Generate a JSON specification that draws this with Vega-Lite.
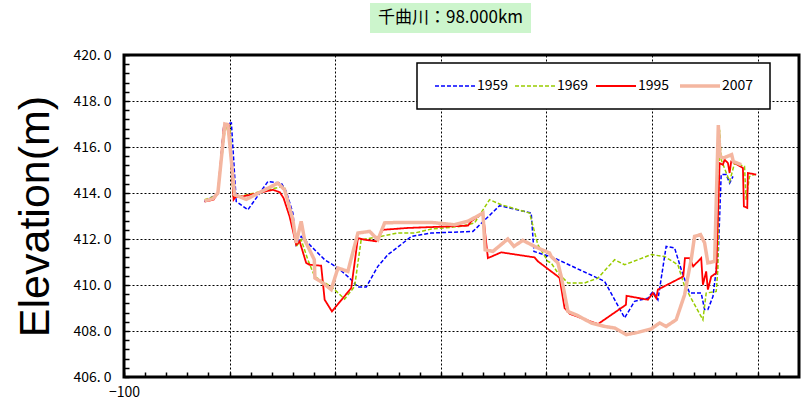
{
  "$schema": "https://vega.github.io/schema/vega-lite/v6.json",
  "padding": {"left": 12, "top": 3, "right": 0, "bottom": 0},
  "bounds": "flush",
  "spacing": 52,
  "config": {"view": {"stroke": null}, "font": "Noto Sans CJK JP"},
  "datasets": {
    "ttl": [{"label": "千曲川：98.000km"}],
    "blank": [{"t": ""}],
    "prof": [
      {"s":"1959","d":-23.7,"h":413.63},{"s":"1959","d":-11.1,"h":413.97},{"s":"1959","d":-5.4,"h":416.97},{"s":"1959","d":1.7,"h":417.05},{"s":"1959","d":6.3,"h":413.63},{"s":"1959","d":17.3,"h":413.27},{"s":"1959","d":36.3,"h":414.5},{"s":"1959","d":48.9,"h":414.43},{"s":"1959","d":53.6,"h":414.07},{"s":"1959","d":59.9,"h":413.13},{"s":"1959","d":63.1,"h":411.75},{"s":"1959","d":67.8,"h":412.11},{"s":"1959","d":77.3,"h":411.68},{"s":"1959","d":90.0,"h":411.1},{"s":"1959","d":102.6,"h":410.74},{"s":"1959","d":113.7,"h":410.3},{"s":"1959","d":121.5,"h":409.91},{"s":"1959","d":129.4,"h":409.91},{"s":"1959","d":140.4,"h":410.81},{"s":"1959","d":149.9,"h":411.32},{"s":"1959","d":159.4,"h":411.65},{"s":"1959","d":172.0,"h":412.11},{"s":"1959","d":190.9,"h":412.26},{"s":"1959","d":230.4,"h":412.33},{"s":"1959","d":255.7,"h":413.45},{"s":"1959","d":285.6,"h":413.13},{"s":"1959","d":288.2,"h":411.46},{"s":"1959","d":307.8,"h":411.17},{"s":"1959","d":310.9,"h":411.1},{"s":"1959","d":355.1,"h":410.16},{"s":"1959","d":374.1,"h":408.57},{"s":"1959","d":383.5,"h":409.29},{"s":"1959","d":396.1,"h":409.43},{"s":"1959","d":400.9,"h":409.72},{"s":"1959","d":405.6,"h":409.36},{"s":"1959","d":413.4,"h":411.68},{"s":"1959","d":421.4,"h":411.61},{"s":"1959","d":427.7,"h":410.67},{"s":"1959","d":435.6,"h":409.65},{"s":"1959","d":446.6,"h":409.65},{"s":"1959","d":449.8,"h":408.93},{"s":"1959","d":452.9,"h":408.93},{"s":"1959","d":457.7,"h":409.5},{"s":"1959","d":462.8,"h":411.4},{"s":"1959","d":465.5,"h":414.8},{"s":"1959","d":470.3,"h":414.8},{"s":"1959","d":473.5,"h":414.43},{"s":"1959","d":476.7,"h":414.72},
      {"s":"1969","d":-23.7,"h":413.71},{"s":"1969","d":-15.2,"h":413.84},{"s":"1969","d":-11.1,"h":414.0},{"s":"1969","d":-4.7,"h":416.6},{"s":"1969","d":-2.5,"h":416.95},{"s":"1969","d":0.5,"h":416.9},{"s":"1969","d":3.1,"h":413.88},{"s":"1969","d":9.5,"h":413.85},{"s":"1969","d":50.5,"h":414.29},{"s":"1969","d":52.1,"h":414.22},{"s":"1969","d":59.9,"h":412.7},{"s":"1969","d":63.1,"h":411.68},{"s":"1969","d":67.8,"h":411.97},{"s":"1969","d":74.1,"h":411.1},{"s":"1969","d":80.5,"h":410.37},{"s":"1969","d":88.4,"h":410.16},{"s":"1969","d":97.8,"h":409.87},{"s":"1969","d":108.9,"h":409.39},{"s":"1969","d":118.4,"h":409.94},{"s":"1969","d":124.6,"h":411.97},{"s":"1969","d":140.4,"h":412.09},{"s":"1969","d":159.4,"h":412.26},{"s":"1969","d":175.2,"h":412.26},{"s":"1969","d":190.9,"h":412.43},{"s":"1969","d":219.3,"h":412.55},{"s":"1969","d":232.0,"h":412.7},{"s":"1969","d":246.2,"h":413.71},{"s":"1969","d":257.2,"h":413.49},{"s":"1969","d":284.1,"h":413.13},{"s":"1969","d":291.9,"h":411.75},{"s":"1969","d":301.4,"h":411.03},{"s":"1969","d":304.5,"h":410.96},{"s":"1969","d":310.9,"h":410.52},{"s":"1969","d":320.4,"h":410.09},{"s":"1969","d":336.2,"h":410.09},{"s":"1969","d":348.8,"h":410.3},{"s":"1969","d":364.6,"h":411.1},{"s":"1969","d":374.1,"h":410.88},{"s":"1969","d":399.2,"h":411.32},{"s":"1969","d":411.9,"h":411.24},{"s":"1969","d":424.5,"h":410.88},{"s":"1969","d":430.9,"h":409.94},{"s":"1969","d":448.2,"h":408.49},{"s":"1969","d":451.3,"h":409.65},{"s":"1969","d":460.8,"h":409.72},{"s":"1969","d":462.4,"h":410.67},{"s":"1969","d":464.0,"h":416.75},{"s":"1969","d":465.5,"h":415.45},{"s":"1969","d":473.5,"h":414.5},{"s":"1969","d":478.2,"h":415.3},{"s":"1969","d":487.6,"h":415.16},{"s":"1969","d":489.1,"h":413.71},{"s":"1969","d":492.3,"h":414.72},{"s":"1969","d":497.0,"h":414.8},
      {"s":"1995","d":-23.7,"h":413.63},{"s":"1995","d":-15.2,"h":413.71},{"s":"1995","d":-11.1,"h":414.0},{"s":"1995","d":-5.4,"h":416.9},{"s":"1995","d":-3.2,"h":417.0},{"s":"1995","d":-0.7,"h":416.95},{"s":"1995","d":3.8,"h":413.71},{"s":"1995","d":5.7,"h":413.83},{"s":"1995","d":12.6,"h":413.85},{"s":"1995","d":41.0,"h":414.14},{"s":"1995","d":47.6,"h":414.03},{"s":"1995","d":51.1,"h":413.78},{"s":"1995","d":56.8,"h":412.98},{"s":"1995","d":63.1,"h":411.75},{"s":"1995","d":66.3,"h":411.9},{"s":"1995","d":72.5,"h":410.96},{"s":"1995","d":75.8,"h":410.88},{"s":"1995","d":86.7,"h":410.84},{"s":"1995","d":90.0,"h":409.36},{"s":"1995","d":96.9,"h":408.85},{"s":"1995","d":115.2,"h":409.87},{"s":"1995","d":121.5,"h":412.04},{"s":"1995","d":127.8,"h":411.97},{"s":"1995","d":138.8,"h":411.9},{"s":"1995","d":145.2,"h":412.4},{"s":"1995","d":168.8,"h":412.48},{"s":"1995","d":225.7,"h":412.58},{"s":"1995","d":228.8,"h":412.77},{"s":"1995","d":239.9,"h":413.13},{"s":"1995","d":244.6,"h":411.17},{"s":"1995","d":257.2,"h":411.42},{"s":"1995","d":288.8,"h":411.2},{"s":"1995","d":291.9,"h":411.03},{"s":"1995","d":310.9,"h":410.37},{"s":"1995","d":312.5,"h":410.3},{"s":"1995","d":317.2,"h":409.0},{"s":"1995","d":322.0,"h":408.75},{"s":"1995","d":348.8,"h":408.3},{"s":"1995","d":375.3,"h":409.14},{"s":"1995","d":375.9,"h":409.53},{"s":"1995","d":396.1,"h":409.36},{"s":"1995","d":400.9,"h":409.65},{"s":"1995","d":404.0,"h":409.43},{"s":"1995","d":405.6,"h":409.8},{"s":"1995","d":429.6,"h":410.37},{"s":"1995","d":431.2,"h":411.17},{"s":"1995","d":435.6,"h":411.17},{"s":"1995","d":439.0,"h":410.81},{"s":"1995","d":446.6,"h":411.17},{"s":"1995","d":448.2,"h":410.01},{"s":"1995","d":451.3,"h":410.59},{"s":"1995","d":452.9,"h":409.8},{"s":"1995","d":456.1,"h":410.37},{"s":"1995","d":460.8,"h":410.52},{"s":"1995","d":464.0,"h":415.3},{"s":"1995","d":467.1,"h":415.23},{"s":"1995","d":468.8,"h":415.45},{"s":"1995","d":471.9,"h":415.3},{"s":"1995","d":473.5,"h":414.87},{"s":"1995","d":475.0,"h":415.37},{"s":"1995","d":478.2,"h":415.3},{"s":"1995","d":486.1,"h":415.09},{"s":"1995","d":487.0,"h":413.42},{"s":"1995","d":490.2,"h":413.35},{"s":"1995","d":490.8,"h":414.87},{"s":"1995","d":498.7,"h":414.8},
      {"s":"2007","d":-23.7,"h":413.66},{"s":"2007","d":-15.8,"h":413.75},{"s":"2007","d":-11.1,"h":414.0},{"s":"2007","d":-4.5,"h":417.0},{"s":"2007","d":-1.6,"h":416.97},{"s":"2007","d":4.7,"h":413.93},{"s":"2007","d":15.7,"h":413.72},{"s":"2007","d":41.0,"h":414.32},{"s":"2007","d":45.7,"h":414.43},{"s":"2007","d":52.1,"h":414.14},{"s":"2007","d":59.9,"h":412.84},{"s":"2007","d":63.1,"h":411.83},{"s":"2007","d":67.8,"h":412.77},{"s":"2007","d":71.0,"h":411.97},{"s":"2007","d":80.2,"h":411.1},{"s":"2007","d":80.8,"h":410.3},{"s":"2007","d":88.4,"h":410.09},{"s":"2007","d":96.2,"h":409.8},{"s":"2007","d":102.6,"h":410.74},{"s":"2007","d":112.0,"h":410.59},{"s":"2007","d":121.5,"h":412.26},{"s":"2007","d":132.6,"h":412.33},{"s":"2007","d":140.4,"h":411.97},{"s":"2007","d":146.8,"h":412.7},{"s":"2007","d":159.4,"h":412.72},{"s":"2007","d":190.9,"h":412.72},{"s":"2007","d":213.1,"h":412.62},{"s":"2007","d":225.7,"h":412.77},{"s":"2007","d":239.9,"h":413.13},{"s":"2007","d":242.0,"h":411.53},{"s":"2007","d":249.3,"h":411.46},{"s":"2007","d":263.5,"h":412.0},{"s":"2007","d":269.2,"h":411.68},{"s":"2007","d":277.7,"h":411.94},{"s":"2007","d":288.8,"h":411.68},{"s":"2007","d":291.9,"h":411.61},{"s":"2007","d":303.0,"h":411.39},{"s":"2007","d":304.5,"h":411.24},{"s":"2007","d":310.9,"h":410.96},{"s":"2007","d":314.0,"h":410.37},{"s":"2007","d":320.4,"h":408.85},{"s":"2007","d":329.8,"h":408.67},{"s":"2007","d":342.4,"h":408.35},{"s":"2007","d":355.1,"h":408.2},{"s":"2007","d":364.6,"h":408.13},{"s":"2007","d":375.6,"h":407.84},{"s":"2007","d":386.6,"h":407.94},{"s":"2007","d":399.2,"h":408.09},{"s":"2007","d":407.2,"h":408.35},{"s":"2007","d":413.4,"h":408.2},{"s":"2007","d":422.9,"h":408.49},{"s":"2007","d":430.9,"h":409.58},{"s":"2007","d":434.0,"h":410.37},{"s":"2007","d":437.1,"h":411.1},{"s":"2007","d":440.3,"h":412.11},{"s":"2007","d":446.0,"h":412.19},{"s":"2007","d":449.8,"h":411.83},{"s":"2007","d":452.9,"h":410.96},{"s":"2007","d":459.3,"h":411.03},{"s":"2007","d":462.8,"h":416.95},{"s":"2007","d":464.4,"h":415.59},{"s":"2007","d":467.6,"h":415.52},{"s":"2007","d":475.4,"h":415.67},{"s":"2007","d":477.0,"h":415.37},{"s":"2007","d":484.5,"h":415.23}
    ]
  },
  "vconcat": [
    {
      "hconcat": [
        {
          "width": 246, "height": 30,
          "view": {"stroke": null},
          "data": {"name": "blank"},
          "mark": {"type": "text"},
          "encoding": {"text": {"field": "t"}}
        },
        {
          "width": 161, "height": 30,
          "view": {"fill": "#ccf5cc", "stroke": null},
          "data": {"name": "ttl"},
          "mark": {"type": "text", "fontSize": 17, "color": "black", "font": "Noto Sans CJK JP"},
          "encoding": {"text": {"field": "label"}}
        }
      ],
      "spacing": 0,
      "bounds": "flush"
    },
    {
      "width": 675,
      "height": 322,
      "view": {"stroke": "black", "strokeWidth": 3},
      "data": {"name": "prof"},
      "resolve": {"axis": {"x": "independent", "y": "independent"}},
      "layer": [
        {
          "mark": {"type": "line"},
          "encoding": {
            "x": {
              "field": "d", "type": "quantitative",
              "scale": {"domain": [-100, 539.2], "nice": false, "zero": false},
              "axis": {
                "orient": "bottom", "title": null,
                "values": [-100, 0, 100, 200, 300, 400, 500],
                "grid": true, "gridColor": "black", "gridDash": [2, 2], "gridWidth": 1, "gridOpacity": 1,
                "domain": false, "ticks": false,
                "labelExpr": "datum.value === -100 ? '−100' : ''",
                "labelFlush": false, "labelFontSize": 14, "labelColor": "black", "labelPadding": 8
              }
            },
            "y": {
              "field": "h", "type": "quantitative",
              "scale": {"domain": [406, 420], "nice": false, "zero": false},
              "axis": {
                "orient": "left",
                "values": [406, 408, 410, 412, 414, 416, 418, 420],
                "grid": true, "gridColor": "black", "gridDash": [2, 2], "gridWidth": 1, "gridOpacity": 1,
                "domain": false, "ticks": false,
                "labelExpr": "replace(format(datum.value, '.1f'), '.', '. ')",
                "labelFontSize": 14, "labelColor": "black", "labelPadding": 13,
                "title": "Elevation(m)", "titleFont": "Liberation Sans", "titleFontSize": 43,
                "titleFontWeight": "normal", "titleColor": "black", "titleX": -67, "titleY": 161
              }
            },
            "color": {
              "field": "s", "type": "nominal",
              "scale": {"domain": ["1959", "1969", "1995", "2007"], "range": ["#0000ff", "#99cc00", "#ff0000", "#f4b6a0"]},
              "legend": {
                "title": null, "orient": "none", "legendX": 293, "legendY": 60,
                "direction": "horizontal", "columns": 4,
                "fillColor": "white", "strokeColor": "black",
                "padding": 16, "symbolType": "M-1,0H7", "symbolSize": 100,
                "labelFontSize": 14, "labelColor": "black", "columnPadding": 3, "labelOffset": 30,
                "encode": {"legend": {"update": {"strokeWidth": {"value": 1.5}}}}
              }
            },
            "strokeDash": {
              "field": "s", "type": "nominal",
              "scale": {"domain": ["1959", "1969", "1995", "2007"], "range": [[4, 2], [4, 2], [1, 0], [1, 0]]}
            },
            "strokeWidth": {
              "field": "s", "type": "ordinal",
              "scale": {"type": "ordinal", "domain": ["1959", "1969", "1995", "2007"], "range": [1.5, 1.5, 1.8, 3.5]}
            }
          }
        },
        {
          "mark": {"type": "point", "opacity": 0},
          "encoding": {
            "x": {
              "field": "d", "type": "quantitative",
              "axis": {
                "orient": "bottom", "title": null,
                "values": [-100, -80, -60, -40, -20, 0, 20, 40, 60, 80, 100, 120, 140, 160, 180, 200, 220, 240, 260, 280, 300, 320, 340, 360, 380, 400, 420, 440, 460, 480, 500, 520],
                "grid": false, "labels": false, "domain": false,
                "ticks": true, "tickSize": -5, "tickColor": "black", "tickWidth": 1.5
              }
            },
            "y": {
              "field": "h", "type": "quantitative",
              "axis": {
                "orient": "left", "title": null,
                "values": [406, 406.4, 406.8, 407.2, 407.6, 408, 408.4, 408.8, 409.2, 409.6, 410, 410.4, 410.8, 411.2, 411.6, 412, 412.4, 412.8, 413.2, 413.6, 414, 414.4, 414.8, 415.2, 415.6, 416, 416.4, 416.8, 417.2, 417.6, 418, 418.4, 418.8, 419.2, 419.6, 420],
                "grid": false, "labels": false, "domain": false,
                "ticks": true, "tickSize": -5, "tickColor": "black", "tickWidth": 1.5
              }
            }
          }
        }
      ]
    }
  ]
}
